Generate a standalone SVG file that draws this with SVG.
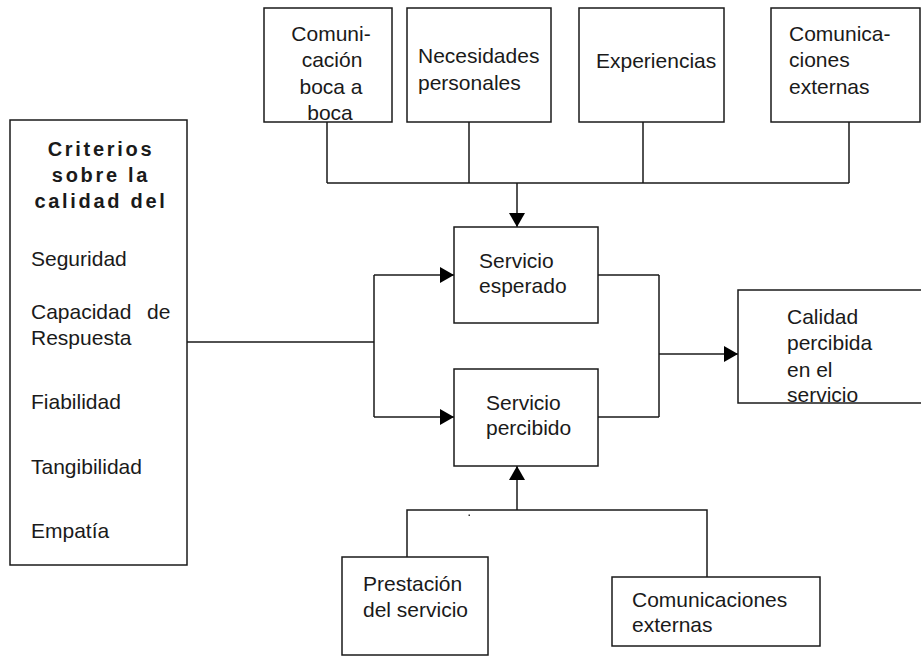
<svg xmlns="http://www.w3.org/2000/svg" width="921" height="656" viewBox="0 0 921 656">
<style>
.box{fill:#fff;stroke:#1a1a1a;stroke-width:1.5}
.ln{fill:none;stroke:#1a1a1a;stroke-width:1.5}
text{font-family:"Liberation Sans",Arial,sans-serif;font-size:21px;fill:#1a1a1a}
.hd{font-weight:bold;font-size:20px;letter-spacing:2.7px;text-anchor:middle}
.c{text-anchor:middle}
</style>
<defs>
<marker id="ah" viewBox="0 0 14 16" refX="14" refY="8" markerWidth="14" markerHeight="16" markerUnits="userSpaceOnUse" orient="auto">
<path d="M0,0 L14,8 L0,16 z" fill="#000"/>
</marker>
</defs>
<rect width="921" height="656" fill="#fff"/>
<g id="connectors">
<path class="ln" d="M327,122 V183 M469,122 V183 M643,122 V183 M849,122 V183 M327,183 H849"/>
<path class="ln" d="M517,183 V227" marker-end="url(#ah)"/>
<path class="ln" d="M187,342 H374 M374,275 V417"/>
<path class="ln" d="M374,275 H454" marker-end="url(#ah)"/>
<path class="ln" d="M374,417 H454" marker-end="url(#ah)"/>
<path class="ln" d="M597,275 H659 M597,417 H659 M659,275 V417"/>
<path class="ln" d="M659,354 H738" marker-end="url(#ah)"/>
<path class="ln" d="M407,557 V510 H707 V577"/>
<path class="ln" d="M517,510 V466" marker-end="url(#ah)"/>
<rect x="468.5" y="514.5" width="1.5" height="1.5" fill="#333"/>
</g>
<g id="n-boca">
<rect class="box" x="264" y="8" width="128" height="114"/>
<text class="c" x="331" y="41">Comuni-</text>
<text class="c" x="332" y="67">cación</text>
<text class="c" x="331" y="94">boca a</text>
<text class="c" x="330" y="120">boca</text>
</g>
<g id="n-necesidades">
<rect class="box" x="407" y="8" width="144" height="114"/>
<text x="418" y="63">Necesidades</text>
<text x="418" y="90">personales</text>
</g>
<g id="n-experiencias">
<rect class="box" x="579" y="8" width="145" height="114"/>
<text x="596" y="68">Experiencias</text>
</g>
<g id="n-comext-top">
<rect class="box" x="771" y="8" width="149" height="114"/>
<text x="789" y="41">Comunica-</text>
<text x="789" y="67">ciones</text>
<text x="789" y="94">externas</text>
</g>
<g id="n-criterios">
<rect class="box" x="10" y="120" width="177" height="445"/>
<text class="hd" x="101" y="156">Criterios</text>
<text class="hd" x="101" y="182">sobre la</text>
<text class="hd" x="101" y="208">calidad del</text>
<text x="31" y="266">Seguridad</text>
<text x="31" y="319">Capacidad</text>
<text x="147" y="319">de</text>
<text x="31" y="345">Respuesta</text>
<text x="31" y="409">Fiabilidad</text>
<text x="31" y="474">Tangibilidad</text>
<text x="31" y="538">Empatía</text>
</g>
<g id="n-esperado">
<rect class="box" x="454" y="227" width="144" height="96"/>
<text x="479" y="268">Servicio</text>
<text x="479" y="293">esperado</text>
</g>
<g id="n-percibido">
<rect class="box" x="454" y="369" width="144" height="97"/>
<text x="486" y="410">Servicio</text>
<text x="486" y="435">percibido</text>
</g>
<g id="n-calidad">
<rect class="box" x="738" y="290" width="200" height="113"/>
<text x="787" y="324">Calidad</text>
<text x="787" y="350">percibida</text>
<text x="787" y="377">en el</text>
<text x="787" y="402">servicio</text>
</g>
<g id="n-prestacion">
<rect class="box" x="342" y="557" width="146" height="98"/>
<text x="363" y="591">Prestación</text>
<text x="363" y="617">del servicio</text>
</g>
<g id="n-comext-bottom">
<rect class="box" x="612" y="577" width="208" height="69"/>
<text x="632" y="607">Comunicaciones</text>
<text x="632" y="632">externas</text>
</g>
</svg>
